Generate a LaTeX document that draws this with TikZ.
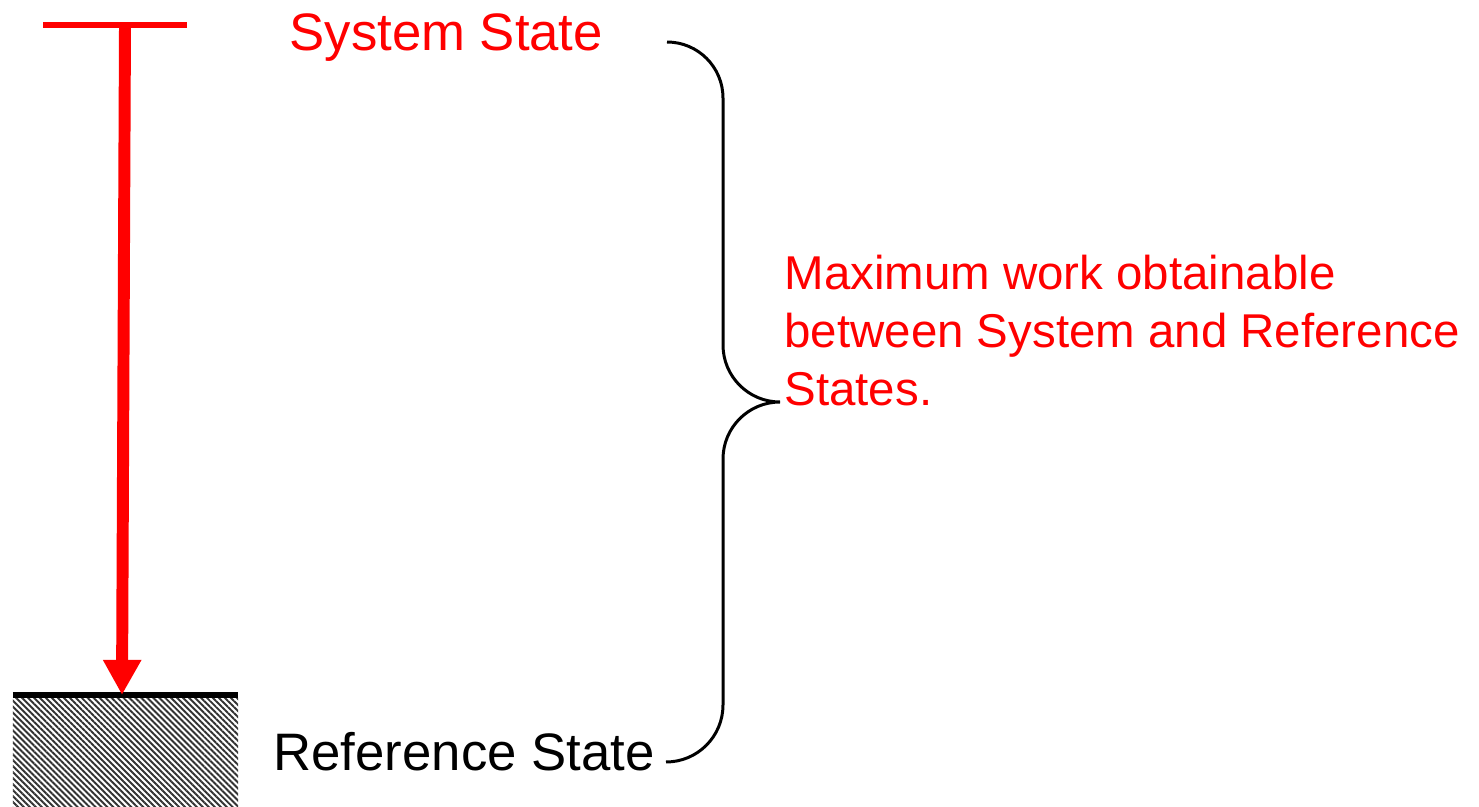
\documentclass[tikz,border=0pt]{standalone}
\usepackage{fontspec}
\setmainfont{Liberation Sans}
\usetikzlibrary{arrows.meta, patterns.meta}
\definecolor{cred}{HTML}{FF0000}
\definecolor{cblack}{HTML}{000000}
\tikzset{
  every picture/.style={line width=1.7pt},
  label/.style={font=\fontsize{30pt}{36pt}\selectfont, inner sep=0pt, anchor=base west},
  note/.style={font=\fontsize{27pt}{33pt}\selectfont, text=cred, align=left, inner sep=0pt},
  bar/.style={draw=#1, line width=3.4pt},
  bar/.default=cblack,
  drop/.style={-{Triangle[width=20.5pt, length=20pt]}, draw=cred, line width=6.8pt},
  brace/.style={draw=cblack, line width=1.7pt},
  ground/.style={pattern={Lines[angle=-45, distance=2.4pt, line width=1.1pt]}, pattern color=black!80},
}

\begin{document}
\begin{tikzpicture}
  \useasboundingbox (0,0) rectangle (29.58,-16.14);
  \coordinate (sysL) at (0.86,-0.5);
  \coordinate (sysR) at (3.74,-0.5);
  \coordinate (sysM) at (2.5,-0.5);
  \coordinate (refL) at (0.26,-13.9);
  \coordinate (refR) at (4.76,-13.9);
  \coordinate (refM) at (2.44,-13.9);
  \fill[ground] (0.26,-13.96) rectangle (4.76,-16.14);
  \draw[bar] (refL) -- (refR);
  \draw[bar=cred] (sysL) -- (sysR);
  \draw[drop] (sysM) -- (refM);
  \node[label, text=cred] (sys) at (5.76,-1.02) {System State};
  \node[label] (ref) at (5.44,-15.4) {Reference State};
  \node[note, anchor=base west] (work) at (15.66,-8.1) {Maximum work obtainable\\between System and Reference\\States.};
  \coordinate (braceTop) at (13.34,-0.84);
  \draw[brace] (braceTop) arc (90:0:1.12) -- (14.46,-6.9) arc (180:270:1.14)
    arc (90:180:1.14) -- (14.46,-14.1) arc (0:-90:1.14);
\end{tikzpicture}
\end{document}
